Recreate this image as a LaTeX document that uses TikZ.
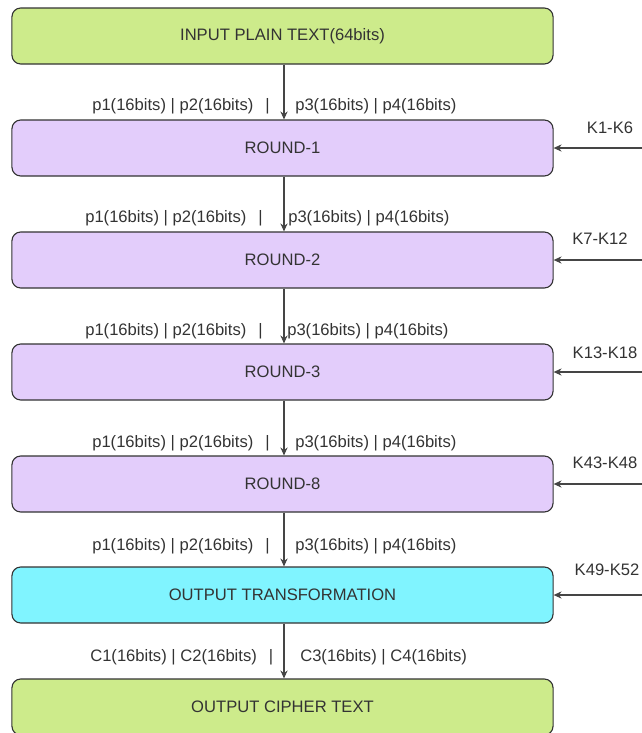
\documentclass[tikz,border=0pt]{standalone}
\usepackage{fontspec}
\setmainfont{Liberation Sans}
\usetikzlibrary{arrows.meta, positioning, calc}

\definecolor{plaingreen}{HTML}{CDEB8B}
\definecolor{roundpurple}{HTML}{E3CDFB}
\definecolor{outcyan}{HTML}{80F4FF}
\definecolor{txtgray}{HTML}{333333}
\definecolor{linegray}{HTML}{454545}

\begin{document}
\begin{tikzpicture}[
  x=0.025cm, y=-0.025cm,
  blk/.style  ={draw=txtgray, line width=0.8pt, rounded corners=0.22cm,
                minimum width=13.525cm, minimum height=1.4cm, inner sep=0pt,
                font=\fontsize{11.8}{14}\selectfont, text=txtgray},
  io/.style   ={blk, fill=plaingreen},
  rnd/.style  ={blk, fill=roundpurple},
  outt/.style ={blk, fill=outcyan},
  arr/.style  ={-{Stealth[length=0.2cm, width=0.18cm]}, line width=0.8pt, color=linegray},
  lbl/.style  ={font=\fontsize{11.8}{14}\selectfont, text=txtgray, inner sep=0pt},
]
\useasboundingbox (0,0) rectangle (642,733);

%% ---- Blocks ----
\node[io]   (IN)  at (282.5, 36)  {INPUT PLAIN TEXT(64bits)};
\node[rnd]  (R1)  at (282.5, 148) {ROUND-1};
\node[rnd]  (R2)  at (282.5, 260) {ROUND-2};
\node[rnd]  (R3)  at (282.5, 372) {ROUND-3};
\node[rnd]  (R8)  at (282.5, 484) {ROUND-8};
\node[outt] (OT)  at (282.5, 595) {OUTPUT TRANSFORMATION};
\node[io]   (OUT) at (282.5, 707) {OUTPUT CIPHER TEXT};

%% ---- Data path ----
\draw[arr] (IN.south -| 284,0) -- (R1.north -| 284,0);
\draw[arr] (R1.south -| 284,0) -- (R2.north -| 284,0);
\draw[arr] (R2.south -| 284,0) -- (R3.north -| 284,0);
\draw[arr] (R3.south -| 284,0) -- (R8.north -| 284,0);
\draw[arr] (R8.south -| 284,0) -- (OT.north -| 284,0);
\draw[arr] (OT.south -| 284,0) -- (OUT.north -| 284,0);

%% ---- Sub-block labels ----
\node[lbl, anchor=west] (a1) at (92, 106)  {p1(16bits) | p2(16bits)\hspace{0.3cm}|};
\node[lbl, anchor=west] (b1) at (295, 106) {p3(16bits) | p4(16bits)};
\node[lbl, anchor=west] (a2) at (85, 218)  {p1(16bits) | p2(16bits)\hspace{0.3cm}|};
\node[lbl, anchor=west] (b2) at (288, 218) {p3(16bits) | p4(16bits)};
\node[lbl, anchor=west] (a3) at (85, 331)  {p1(16bits) | p2(16bits)\hspace{0.3cm}|};
\node[lbl, anchor=west] (b3) at (287, 331) {p3(16bits) | p4(16bits)};
\node[lbl, anchor=west] (a8) at (92, 443)  {p1(16bits) | p2(16bits)\hspace{0.3cm}|};
\node[lbl, anchor=west] (b8) at (295, 443) {p3(16bits) | p4(16bits)};
\node[lbl, anchor=west] (at) at (92, 546)  {p1(16bits) | p2(16bits)\hspace{0.3cm}|};
\node[lbl, anchor=west] (bt) at (295, 546) {p3(16bits) | p4(16bits)};
\node[lbl, anchor=west] (ac) at (90, 657)  {C1(16bits) | C2(16bits)\hspace{0.3cm}|};
\node[lbl, anchor=west] (bc) at (300, 657) {C3(16bits) | C4(16bits)};

%% ---- Round keys ----
\coordinate (k1) at (642, 148);
\coordinate (k2) at (642, 260);
\coordinate (k3) at (642, 372);
\coordinate (k8) at (642, 484);
\coordinate (kt) at (642, 595);
\draw[arr] (k1) -- (R1.east);
\draw[arr] (k2) -- (R2.east);
\draw[arr] (k3) -- (R3.east);
\draw[arr] (k8) -- (R8.east);
\draw[arr] (kt) -- (OT.east);
\node[lbl] (K1) at (610, 128) {K1-K6};
\node[lbl] (K2) at (600, 239) {K7-K12};
\node[lbl] (K3) at (605, 353) {K13-K18};
\node[lbl] (K8) at (605, 463) {K43-K48};
\node[lbl] (KT) at (607, 570) {K49-K52};

\end{tikzpicture}
\end{document}
